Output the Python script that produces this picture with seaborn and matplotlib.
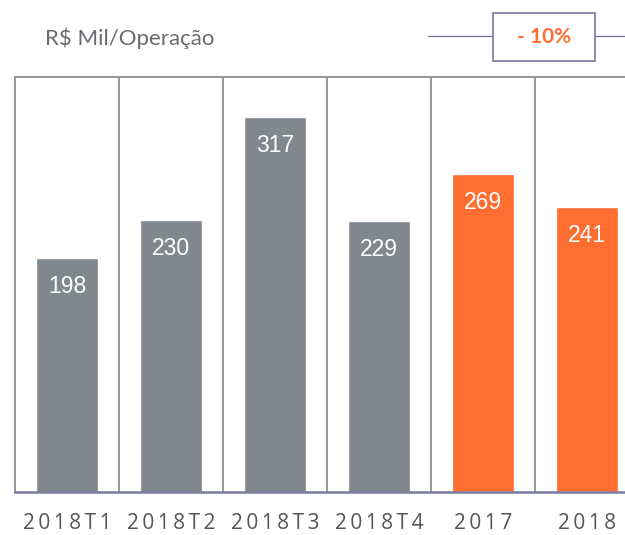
import matplotlib
matplotlib.use("Agg")
import matplotlib.pyplot as plt
import pandas as pd
import seaborn as sns

periods = ["2018T1", "2018T2", "2018T3", "2018T4", "2017", "2018"]
values = [198, 230, 317, 229, 269, 241]
kinds = ["trimestre", "trimestre", "trimestre", "trimestre", "ano", "ano"]
change_label = "- 10%"
unit_label = "R$ Mil/Operação"

GRAY = "#80878f"
ORANGE = "#ff6e30"
LINE = "#8a9099"
FRAME = "#7a7a9e"

df = pd.DataFrame(dict(period=periods, value=values, kind=kinds))

sns.set_theme(style="white")
plt.rcParams["font.family"] = ["Liberation Sans", "DejaVu Sans"]

fig = plt.figure(figsize=(6.25, 5.35), dpi=100)
ax = fig.add_axes([15 / 625, 43 / 535, 610 / 625, 415 / 535])

sns.barplot(data=df, x="period", y="value", hue="kind",
            palette={"trimestre": GRAY, "ano": ORANGE},
            width=0.6, dodge=False, legend=False, saturation=1, ax=ax)

ax.set_xlim(-0.5, 5.365)
ax.set_ylim(0, 351)
ax.set_yticks([])
ax.set_xlabel("")
ax.set_ylabel("")

for i in range(len(periods)):
    ax.axvline(i + 0.5, color=LINE, lw=1.3)

for side in ["top", "left"]:
    ax.spines[side].set_color(LINE)
    ax.spines[side].set_linewidth(1.3)
ax.spines["bottom"].set_color(FRAME)
ax.spines["bottom"].set_linewidth(1.8)
ax.spines["right"].set_visible(False)

thin = "\u2009"
ax.set_xticks(range(len(periods)))
ax.set_xticklabels([thin.join(p) for p in periods], fontsize=15,
                   color="#55565c", family=["Open Sans", "DejaVu Sans"])
ax.tick_params(axis="x", length=0, pad=15)

for i, v in enumerate(values):
    ax.text(i, v - 24, str(v), ha="center", va="center", color="white", fontsize=16.5)

fig.text(45 / 625, 1 - 38 / 535, unit_label, ha="left", va="center",
         fontsize=16, color="#6a6a70", family=["Lato", "DejaVu Sans"])

fig.add_artist(plt.Line2D([428 / 625, 493 / 625], [1 - 36 / 535] * 2, color=FRAME, lw=1))
fig.add_artist(plt.Line2D([595 / 625, 1.0], [1 - 36 / 535] * 2, color=FRAME, lw=1))
fig.add_artist(plt.Rectangle((493 / 625, 1 - 61 / 535), 102 / 625, 48 / 535,
                             fill=False, edgecolor=FRAME, lw=1.2))
fig.text(544 / 625, 1 - 37 / 535, change_label, ha="center", va="center",
         fontsize=15, color=ORANGE, fontweight="bold", family=["Lato", "DejaVu Sans"])

fig.savefig("out.png", dpi=100)
